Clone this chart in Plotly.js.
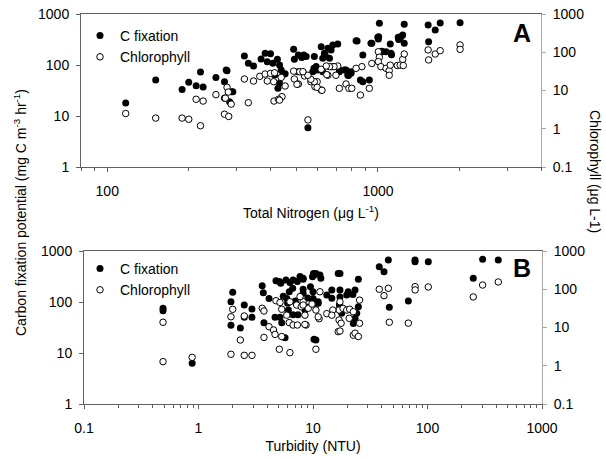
<!DOCTYPE html>
<html>
<head>
<meta charset="utf-8">
<script src="https://cdn.plot.ly/plotly-3.0.1.min.js"></script>
<style>html,body{margin:0;padding:0;background:#fff;}#chart{width:606px;height:459px;}</style>
</head>
<body>
<div id="chart"></div>
<script>
// ---------- Panel A: Total Nitrogen (ug/L) ----------
var tnCfix = [117,151,189,200,213,221,226,252,271,277,287,283,321,332,347,370,383,401,390,409,425,433,439,445,415,433,427,454,488,491,508,523,543,506,582,580,596,617,634,653,662,681,710,720,551,
  1012,1250,1532,1697,1627,2010,1538,1006,1003,942,837,1110,1217,1234,1250,1192,1036,1071,1117,879,671,638,625,532,591,720,762,773,795,861,929,879,625,574,830,949,998,1188,778,795,1122,1032,275,291,529,752];
var cfixA = [18,51,33,46,39,73,37,57,47,77,30,19,150,108,96,131,170,167,116,108,129,100,80,64,64,44,35,67,203,129,157,141,146,74,146,86,80,229,170,212,135,247,258,74,5.9,
  656,628,608,667,486,676,286,359,324,266,296,258,359,387,266,316,182,182,170,157,197,157,135,157,93,80,80,64,74,51,51,47,74,74,300,266,349,349,62,69,159,185,80,30,72,80];
var tnChl = [117,151,189,200,221,213,226,252,271,277,280,287,271,281,321,347,332,366,383,390,401,415,412,439,454,413,442,429,488,491,508,514,535,565,585,617,596,617,653,674,710,699,720,551,
  2010,2010,1532,1538,1627,1697,1003,1012,1003,949,1025,1071,1100,1100,1110,1179,1208,1234,1250,1240,872,830,861,929,762,781,800,688,662,644,582,596,621,565,551,528,273,502,647,433];
var chlA = [2.5,1.9,1.9,1.77,1.2,5.9,5.3,7.8,6.3,12.1,9.1,4.4,2.4,2.1,20,17.7,4.8,23.5,27,17.7,28,29,17,22,13.1,5.3,6.9,5.9,32,20,14.8,31,24,17,12.6,10.3,17,35.8,25,42,43.7,25,11.4,1.7,
  155,119,115,63,90,110,103,74,57,51,42,38,33,25,46,45,46,65,90,45,42,38,7.6,11.4,14.8,11.4,11.4,42,42,43.7,17,12.1,10.1,19.6,25,31,6.3,14.5,26,5.6];

// ---------- Panel B: Turbidity (NTU) ----------
var ntuCfix = [0.49,0.49,0.88,1.92,1.99,1.92,2.32,2.51,2.51,2.93,2.93,3.6,3.68,4.13,3.73,4.66,5.15,5.33,5.7,4.75,5.08,5.23,5.8,6.29,6.7,7.3,6.65,7.7,6.2,5.9,6.1,6.7,7.4,8.2,8.2,8.5,10.2,10.6,11.5,10,11.1,10,10.6,10.2,16.6,17.2,17,
  45.5,37.9,41.7,77.8,77.8,101.6,303,415,251,68,46.4,24.9,24.9,24.1,23.3,22.5,17.2,23.3,20.3,19.7,17.2,17.2,17.8,14.6,13.2,11.7,10.1,8.2,8.2,10,11.1,9.9,22.3,10.7,14.6,5.5,6.0,7.0,8.8,9.5,9.0];
var cfixB = [75,67,6.3,101,155,35,31,87,50,73,50,209,151,117,39,50,50,39,20,262,251,232,270,240,270,251,186,315,159,117,70,56,56,292,148,70,339,364,339,159,94,110,18,18.6,364,172,88,
  663,492,394,663,616,616,687,663,292,105,79,279,81,60,48,38,364,172,159,137,126,81,60,172,137,292,364,279,178,117,101,313,141,94,118,130,95,105,80,200,120];
var ntuChl = [0.49,0.49,0.88,1.92,1.99,1.92,2.32,2.51,2.93,2.51,3.6,3.73,4.13,3.73,4.52,4.66,4.75,5.15,5.33,5.33,5.08,6.29,5.9,6.2,6.7,7.3,8.7,7.2,7.9,9.1,9.8,10.6,10.6,11.3,11.5,8.2,6.29,7.7,13.2,16.6,
  37.9,41.7,45.5,46.4,68,78,78,101.6,251,303,415,
  17.2,16.9,16.9,17.6,17.2,18.3,19.7,20.9,20.7,22.5,22.5,23.3,24.9,25.5,25.5,14.9,14.6,11.1,8.5,8.5,8.2];
var chlB = [13.7,1.28,1.66,19.1,29.9,2.0,4.7,1.87,1.87,20,31.8,27,10.5,5.5,8.6,6.6,50,45,30,5.8,2.7,2.2,21,13.4,11.6,11.6,11.6,38.7,35,31.8,41,28.6,2.7,17,86,47,47,64,23,7.8,
  100,68,106,13.7,13,117,96,115,63,129,155,
  47,28.6,15.7,12.9,8.1,31.6,28.6,30,17.4,25.9,6.3,7.1,5.8,52,12.9,28.6,21,19,21,12,38.7];

var legendNames = ['C fixation', 'Chlorophyll'];
var panelLetters = ['A', 'B'];
var tnTickLabels = [100, 1000];
var ntuTickLabels = [0.1, 1, 10, 100, 1000];

// minor tick positions (2..9 within each decade), clipped by axis range
function minorTicks(decades) {
  var out = [];
  decades.forEach(function (d) { for (var k = 2; k <= 9; k++) out.push(k * d); });
  return out;
}
var tnMinor = minorTicks([10, 100, 1000]);
var ntuMinor = minorTicks([0.1, 1, 10, 100]);

var filled = {symbol:'circle', size:7, color:'#000000', line:{width:0}};
var openMarker = {symbol:'circle', size:6.5, color:'#ffffff', line:{width:1, color:'#000000'}};

var traces = [
  {x:tnCfix, y:cfixA, xaxis:'x', yaxis:'y', type:'scatter', mode:'markers', name:legendNames[0], marker:filled, legend:'legend', cliponaxis:false},
  {x:tnChl, y:chlA, xaxis:'x', yaxis:'y2', type:'scatter', mode:'markers', name:legendNames[1], marker:openMarker, legend:'legend', cliponaxis:false},
  {x:ntuCfix, y:cfixB, xaxis:'x2', yaxis:'y3', type:'scatter', mode:'markers', name:legendNames[0], marker:filled, legend:'legend2', cliponaxis:false},
  {x:ntuChl, y:chlB, xaxis:'x2', yaxis:'y4', type:'scatter', mode:'markers', name:legendNames[1], marker:openMarker, legend:'legend2', cliponaxis:false}
];

var W = 606, H = 459;
var axDark = '#606060', axLight = '#a8a8a8';
var fontFam = 'Liberation Sans, Arial, Helvetica, sans-serif';

function xAx(dom, rng, anchor, title, tv, mv, standoff) {
  return {type:'log', domain:dom, range:rng, anchor:anchor, showgrid:false, zeroline:false,
    showline:true, linecolor:axDark, linewidth:1, mirror:true,
    ticks:'outside', ticklen:4, tickcolor:axDark, tickmode:'array', tickvals:tv, ticktext:tv.map(String),
    ticklabelstandoff:7,
    minor:{tickmode:'array', tickvals:mv, ticks:'outside', ticklen:3, tickcolor:axDark, showgrid:false},
    tickfont:{size:14, color:'#000'},
    title:{text:title, font:{size:14, color:'#000'}, standoff:standoff}};
}
function yL(dom, anchor) {
  return {type:'log', domain:dom, range:[0,3], anchor:anchor, showgrid:false, zeroline:false,
    showline:true, linecolor:axDark, linewidth:1, ticks:'outside', ticklen:4, tickcolor:axDark,
    dtick:1, exponentformat:'none', ticklabelstandoff:4, tickfont:{size:14, color:'#000'}};
}
function yR(over, anchor) {
  return {type:'log', overlaying:over, side:'right', range:[-1,3], anchor:anchor, showgrid:false, zeroline:false,
    showline:true, linecolor:axLight, linewidth:1, ticks:'outside', ticklen:4, tickcolor:axLight,
    dtick:1, exponentformat:'none', ticklabelstandoff:4, tickfont:{size:14, color:'#000'}};
}

var layout = {
  width:W, height:H, margin:{l:0, r:0, t:0, b:0},
  paper_bgcolor:'#ffffff', plot_bgcolor:'#ffffff',
  font:{family:fontFam, size:14, color:'#000'},
  showlegend:true,
  xaxis: xAx([81/W, 541/W], [Math.log10(80), Math.log10(4000)], 'y', 'Total Nitrogen (\u03bcg L<sup>-1</sup>)', tnTickLabels, tnMinor, 10),
  yaxis: yL([1-167/H, 1-14/H], 'x'),
  yaxis2: yR('y', 'x'),
  xaxis2: xAx([84/W, 542/W], [-1, 3], 'y3', 'Turbidity (NTU)', ntuTickLabels, ntuMinor, 6),
  yaxis3: yL([1-404/H, 1-251/H], 'x2'),
  yaxis4: yR('y3', 'x2'),
  legend:{x:80/W, y:1-20/H, xanchor:'left', yanchor:'top', bgcolor:'rgba(0,0,0,0)', borderwidth:0,
    font:{size:14, color:'#000'}, itemwidth:30, tracegroupgap:0},
  legend2:{x:80/W, y:1-253/H, xanchor:'left', yanchor:'top', bgcolor:'rgba(0,0,0,0)', borderwidth:0,
    font:{size:14, color:'#000'}, itemwidth:30, tracegroupgap:0},
  annotations:[
    {text:'<b>'+panelLetters[0]+'</b>', xref:'paper', yref:'paper', x:522/W, y:1-33/H, showarrow:false, font:{size:25, color:'#000'}, xanchor:'center', yanchor:'middle'},
    {text:'<b>'+panelLetters[1]+'</b>', xref:'paper', yref:'paper', x:522/W, y:1-268/H, showarrow:false, font:{size:25, color:'#000'}, xanchor:'center', yanchor:'middle'},
    {text:'Carbon fixation potential (mg C m<sup>-3</sup> hr<sup>-1</sup>)', xref:'paper', yref:'paper', x:20/W, y:1-213/H, textangle:-90, showarrow:false, font:{size:14, color:'#000'}, xanchor:'center', yanchor:'middle'},
    {text:'Chlorophyll (\u03bcg L-1)', xref:'paper', yref:'paper', x:595/W, y:1-171/H, textangle:90, showarrow:false, font:{size:14, color:'#000'}, xanchor:'center', yanchor:'middle'}
  ]
};

Plotly.newPlot('chart', traces, layout, {displayModeBar:false, staticPlot:true});
</script>
</body>
</html>
